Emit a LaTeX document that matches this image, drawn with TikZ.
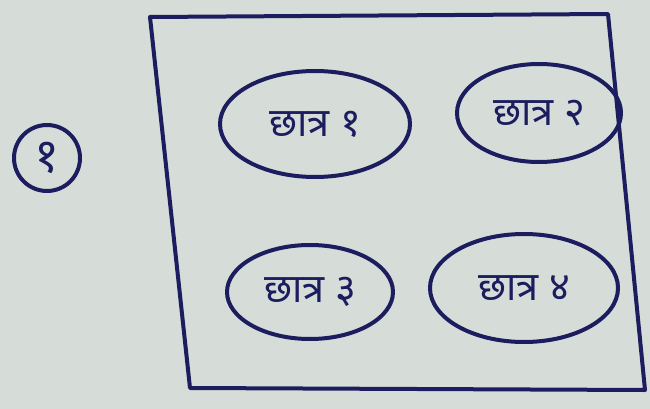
\documentclass[tikz,border=0pt]{standalone}
\usepackage{fontspec}
\newfontfamily\devfont[Script=Devanagari]{Noto Sans}
\usetikzlibrary{shapes.geometric}
\definecolor{ink}{HTML}{1B1D5E}
\definecolor{paper}{HTML}{D6DDD8}
\tikzset{
  pen/.style={draw=ink, line width=4pt, line join=round, line cap=round},
  student/.style={pen, ellipse, inner sep=0pt, text=ink, font=\devfont\fontsize{40}{48}\selectfont},
}
\begin{document}
\begin{tikzpicture}[x=1pt,y=-1pt]
\fill[paper] (0,0) rectangle (650,409);
\useasboundingbox (0,0) rectangle (650,409);
% circled number
\node[pen, circle, minimum size=66pt, inner sep=0pt, text=ink, font=\devfont\fontsize{48}{56}\selectfont] (num) at (47,158) {१};
% room outline
\coordinate (tl) at (150,17);
\coordinate (tr) at (608,14);
\coordinate (br) at (645,390);
\coordinate (bl) at (190,388);
\draw[pen] (tl) -- (bl) -- (br) -- (tr) -- (tl) -- cycle;
% students
\node[student, minimum width=190pt, minimum height=106pt] (s1) at (315,124) {छात्र १};
\node[student, minimum width=164pt, minimum height=98pt] (s2) at (539,113) {छात्र २};
\node[student, minimum width=166pt, minimum height=94pt] (s3) at (310,292) {छात्र ३};
\node[student, minimum width=188pt, minimum height=108pt] (s4) at (524,288) {छात्र ४};
\end{tikzpicture}
\end{document}
